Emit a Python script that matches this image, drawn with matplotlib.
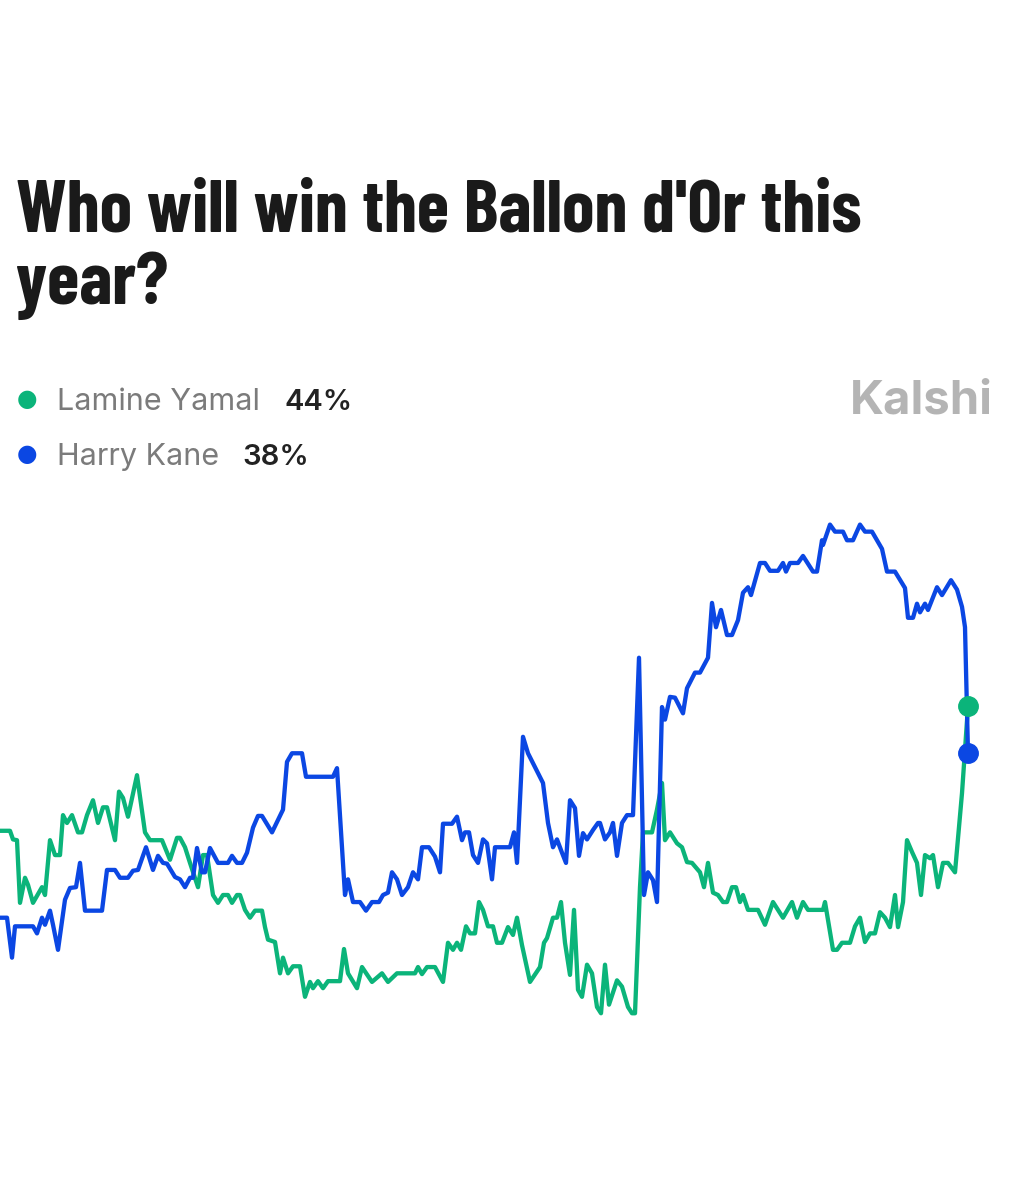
import matplotlib
matplotlib.use("Agg")
import matplotlib.pyplot as plt

# ---- data (percent chance) ----
# time axis in arbitrary sample units (no axis shown on the original)
yamal_t = [0, 10, 13, 17, 20, 25, 28, 33, 42, 45, 50, 55, 60, 63, 67, 72, 78, 82, 87, 93,
           98, 103, 107, 115, 119, 123, 128, 137, 145, 150, 162, 170, 177, 180, 185, 190, 198, 203, 207, 213,
           218, 223, 228, 232, 237, 240, 245, 250, 255, 262, 265, 268, 275, 280, 283, 288, 293, 300, 305, 310,
           313, 318, 323, 328, 340, 344, 348, 357, 362, 372, 382, 388, 397, 415, 418, 422, 427, 435, 443, 448,
           453, 457, 461, 466, 470, 475, 479, 483, 488, 493, 497, 502, 508, 513, 517, 522, 530, 540, 544, 547,
           553, 557, 561, 565, 570, 574, 578, 582, 587, 592, 597, 601, 605, 609, 617, 622, 628, 632, 635, 640,
           643, 652, 657, 662, 665, 670, 677, 682, 687, 692, 700, 704, 708, 713, 718, 723, 727, 732, 736, 740,
           743, 748, 758, 765, 773, 783, 792, 797, 803, 808, 823, 825, 833, 837, 842, 850, 855, 860, 865, 870,
           875, 880, 885, 890, 895, 898, 903, 907, 912, 917, 921, 925, 930, 933, 938, 943, 948, 955, 962, 968]
yamal_p = [28.1, 28.1, 27.0, 26.9, 18.9, 22.1, 21.2, 18.9, 20.9, 19.9, 26.9, 25.0, 25.0, 30.1, 29.1, 30.1, 27.9, 27.9, 30.1, 32.0,
           29.1, 31.1, 31.1, 26.9, 33.1, 32.3, 29.9, 35.2, 27.9, 26.9, 26.9, 24.4, 27.2, 27.2, 26.0, 24.0, 20.9, 25.0, 25.0, 19.9,
           18.9, 19.9, 19.9, 18.9, 19.9, 19.9, 18.0, 17.0, 17.9, 17.9, 15.8, 14.2, 13.9, 9.9, 11.9, 9.9, 10.8, 10.8, 6.9, 8.8,
           8.0, 8.9, 8.0, 8.9, 8.9, 13.0, 9.9, 8.0, 10.7, 8.8, 9.9, 8.8, 9.9, 9.9, 10.7, 9.8, 10.7, 10.7, 8.8, 13.8,
           12.9, 13.8, 12.9, 15.9, 15.0, 15.0, 19.0, 18.0, 15.9, 15.9, 13.8, 13.8, 15.8, 14.8, 17.0, 13.5, 8.8, 10.7, 13.8, 14.4,
           17.0, 17.0, 19.0, 13.8, 9.7, 18.0, 7.8, 6.9, 11.0, 9.9, 5.6, 4.8, 11.0, 5.9, 9.0, 8.2, 5.6, 4.8, 4.8, 20.9,
           27.9, 27.9, 30.8, 34.2, 26.9, 27.9, 26.5, 26.0, 24.1, 24.0, 22.8, 20.9, 24.0, 20.2, 19.9, 19.0, 19.0, 20.9, 20.9, 19.0,
           19.9, 18.0, 18.0, 16.1, 19.0, 17.0, 19.0, 17.0, 19.0, 18.0, 18.0, 19.0, 12.9, 12.9, 13.8, 13.8, 15.9, 17.0, 13.9, 15.0,
           15.0, 17.7, 17.0, 15.8, 19.9, 15.8, 19.0, 26.9, 25.4, 24.0, 19.9, 25.0, 24.6, 25.0, 20.9, 24.0, 24.0, 22.8, 32.9, 44.0]

kane_t = [0, 7, 12, 15, 33, 37, 42, 45, 50, 53, 58, 65, 70, 76, 80, 85, 102, 107, 115, 120,
          128, 133, 138, 146, 153, 158, 163, 167, 175, 180, 185, 190, 193, 197, 202, 205, 210, 218, 228, 232,
          237, 242, 247, 253, 258, 262, 272, 283, 287, 292, 302, 306, 333, 337, 345, 348, 353, 360, 366, 372,
          379, 383, 388, 392, 397, 402, 408, 413, 418, 422, 429, 435, 440, 443, 452, 457, 462, 465, 469, 473,
          478, 483, 487, 492, 495, 510, 514, 517, 523, 528, 543, 548, 553, 557, 562, 566, 570, 575, 579, 583,
          587, 593, 598, 600, 605, 610, 613, 617, 622, 627, 633, 639, 644, 648, 653, 657, 662, 665, 670, 675,
          683, 687, 695, 700, 708, 712, 716, 721, 727, 732, 738, 743, 748, 751, 760, 765, 770, 778, 783, 786,
          790, 798, 803, 813, 817, 822, 823, 830, 835, 843, 847, 853, 860, 865, 872, 877, 882, 887, 895, 905,
          908, 913, 917, 920, 925, 928, 937, 942, 951, 957, 962, 965, 968]
kane_p = [17.0, 17.0, 11.9, 15.9, 15.9, 15.0, 17.0, 16.1, 17.9, 16.1, 12.9, 19.3, 20.8, 20.9, 24.0, 17.9, 17.9, 23.1, 23.1, 22.1,
          22.1, 23.0, 23.1, 26.0, 23.1, 24.9, 24.0, 23.9, 22.2, 21.9, 20.9, 22.1, 22.1, 25.9, 22.8, 22.8, 25.9, 24.0, 24.0, 24.9,
          24.0, 24.0, 25.3, 28.5, 30.0, 30.0, 27.9, 30.8, 36.9, 38.0, 38.0, 35.0, 35.0, 36.1, 19.9, 21.9, 19.0, 19.0, 17.9, 19.0,
          19.0, 19.9, 20.2, 22.8, 21.9, 19.9, 20.9, 22.8, 21.9, 26.0, 26.0, 24.8, 22.8, 29.0, 29.0, 29.9, 26.9, 27.9, 27.9, 25.0,
          24.0, 27.0, 26.5, 21.9, 26.0, 26.0, 27.9, 24.0, 40.1, 38.0, 34.2, 29.1, 26.0, 27.0, 25.3, 24.0, 32.0, 31.0, 24.9, 27.8,
          27.0, 28.2, 29.1, 29.1, 27.0, 27.9, 29.1, 24.9, 29.1, 30.1, 30.1, 50.2, 19.9, 22.8, 21.8, 19.0, 43.9, 42.3, 45.2, 45.1,
          43.1, 46.3, 48.3, 48.3, 50.2, 57.2, 54.1, 56.3, 53.1, 53.1, 55.0, 58.5, 59.2, 58.2, 62.3, 62.3, 61.3, 61.3, 62.3, 61.2,
          62.3, 62.3, 63.2, 61.2, 61.2, 65.2, 64.6, 67.2, 66.3, 66.3, 65.2, 65.2, 67.2, 66.3, 66.3, 65.2, 64.1, 61.2, 61.2, 59.1,
          55.3, 55.3, 57.1, 56.0, 57.1, 56.3, 59.2, 58.2, 60.1, 58.9, 56.7, 54.1, 38.0]

names = ["Lamine Yamal", "Harry Kane"]
latest = ["44%", "38%"]
colors = ["#0bb47a", "#0b47e3"]

W, H = 1025, 1200
fig = plt.figure(figsize=(W / 100, H / 100), dpi=100)
fig.patch.set_facecolor("white")

def fy(py):
    # pixel row from top -> figure fraction
    return 1 - py / H

# title
title_font = ["Barlow Condensed", "Roboto Condensed", "DejaVu Sans"]
fig.text(16 / W, fy(231), "Who will win the Ballon d'Or this", family=title_font,
         fontweight="bold", fontsize=53, color="#1a1a1a", va="baseline")
fig.text(16 / W, fy(304), "year?", family=title_font,
         fontweight="bold", fontsize=53, color="#1a1a1a", va="baseline")

# legend rows
body_font = ["Inter", "DejaVu Sans"]
rows = [(399, 410, 285), (454, 465, 242)]
for (dot_y, base_y, pct_x), name, pct, c in zip(rows, names, latest, colors):
    fig.text(27 / W, fy(dot_y), "\u25CF", color=c, fontsize=17, ha="center", va="center",
             family="DejaVu Sans")
    fig.text(57 / W, fy(base_y), name, color="#7b7b7b", fontsize=22, family=body_font,
             va="baseline")
    fig.text(pct_x / W, fy(base_y), pct, color="#222222", fontsize=21, family=body_font,
             fontweight="semibold", va="baseline")

fig.text(993 / W, fy(413), "Kalshi", color="#b4b4b4", fontsize=34, fontweight="bold",
         family=["Inter", "Liberation Sans"], ha="right", va="baseline")

# chart area
ax = fig.add_axes([0, 0.1243, 1, 0.4568])
ax.plot(yamal_t, yamal_p, color=colors[0], lw=3.1, solid_joinstyle="round", zorder=2)
ax.plot(kane_t, kane_p, color=colors[1], lw=3.1, solid_joinstyle="round", zorder=3)
ax.plot(yamal_t[-1], yamal_p[-1], "o", color=colors[0], ms=14, zorder=4)
ax.plot(kane_t[-1], kane_p[-1], "o", color=colors[1], ms=14, zorder=4)
ax.set_xlim(0, 1025)
ax.set_ylim(0, 70)
ax.axis("off")

fig.savefig("out.png", dpi=100, facecolor="white")
